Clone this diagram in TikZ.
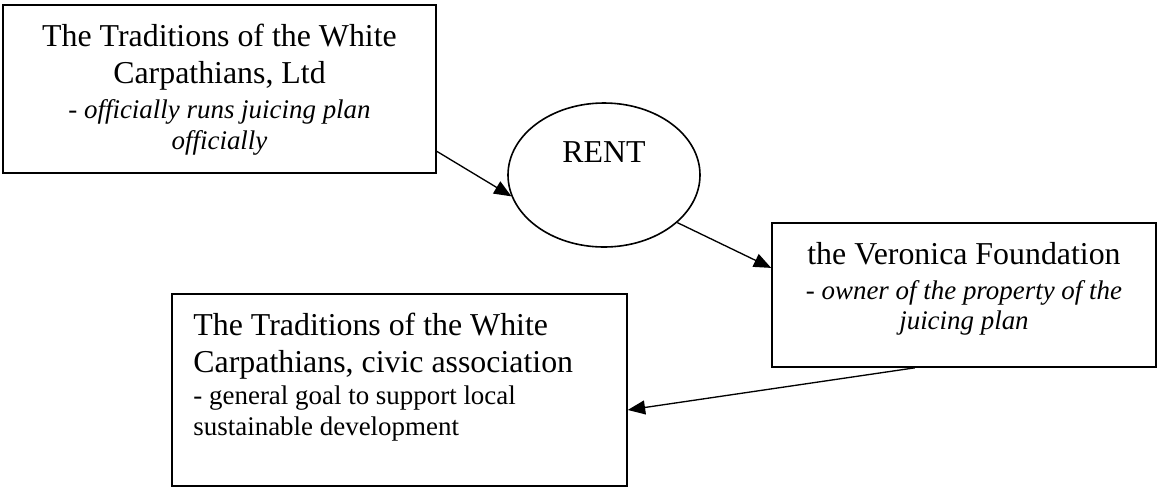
\documentclass[tikz,border=0pt]{standalone}
\usepackage{fontspec}
\setmainfont{Liberation Serif}
\usetikzlibrary{arrows.meta}
\usetikzlibrary{shapes.geometric}

\tikzset{
  box/.style={draw, rectangle, line width=1.2pt, inner sep=0pt},
  oval/.style={draw, ellipse, line width=1.2pt, inner sep=0pt},
  boxtext/.style={inner sep=0pt, anchor=north, align=center},
  link/.style={line width=1pt, -{Triangle[length=13pt,width=10.5pt]}}
}
\newcommand{\headfont}{\fontsize{23.9}{28}\selectfont}
\newcommand{\notefont}{\fontsize{20.2}{25}\selectfont}

\begin{document}
\begin{tikzpicture}[x=0.75pt,y=-0.75pt]
    \useasboundingbox (0,0) rectangle (1157,487);
    % frames
    \node[box, minimum width=324.75pt, minimum height=126pt] (ltd) at (219.5,89) {};
    \node[oval, minimum width=144pt, minimum height=108pt, text height=15.8pt, text depth=35pt, font=\headfont] (rent) at (604,175) {RENT};
    \node[box, minimum width=288pt, minimum height=108pt] (veronica) at (964,295) {};
    \node[box, minimum width=341.25pt, minimum height=144pt] (civic) at (399.5,390) {};
    % texts
    \node[boxtext, font=\headfont] (ltdtext) at ([yshift=-14.8pt]ltd.north)
      {The Traditions of the White\\ Carpathians, Ltd\\[-1.75pt]
       {\notefont - \itshape officially runs juicing plan}\\[-5pt]
       {\notefont\itshape officially}};
    \node[boxtext, font=\headfont] (veronicatext) at ([yshift=-14.6pt]veronica.north)
      {the Veronica Foundation\\[-1.75pt]
       {\notefont - \itshape owner of the property of the}\\[-5pt]
       {\notefont\itshape juicing plan}};
    \node[boxtext, font=\headfont, anchor=north west, align=left] (civictext) at ([xshift=16.5pt,yshift=-14.6pt]civic.north west)
      {The Traditions of the White\\ Carpathians, civic association\\[-4pt]
       {\notefont - general goal to support local}\\[-5pt]
       {\notefont sustainable development}};
    % arrows
    \draw[link] (ltd.-16.2) -- (rent.193.5);
    \draw[link] (rent.-33.3) -- (veronica.172);
    \draw[link] (veronica.-124.2) -- (civic.-5.8);
\end{tikzpicture}
\end{document}
